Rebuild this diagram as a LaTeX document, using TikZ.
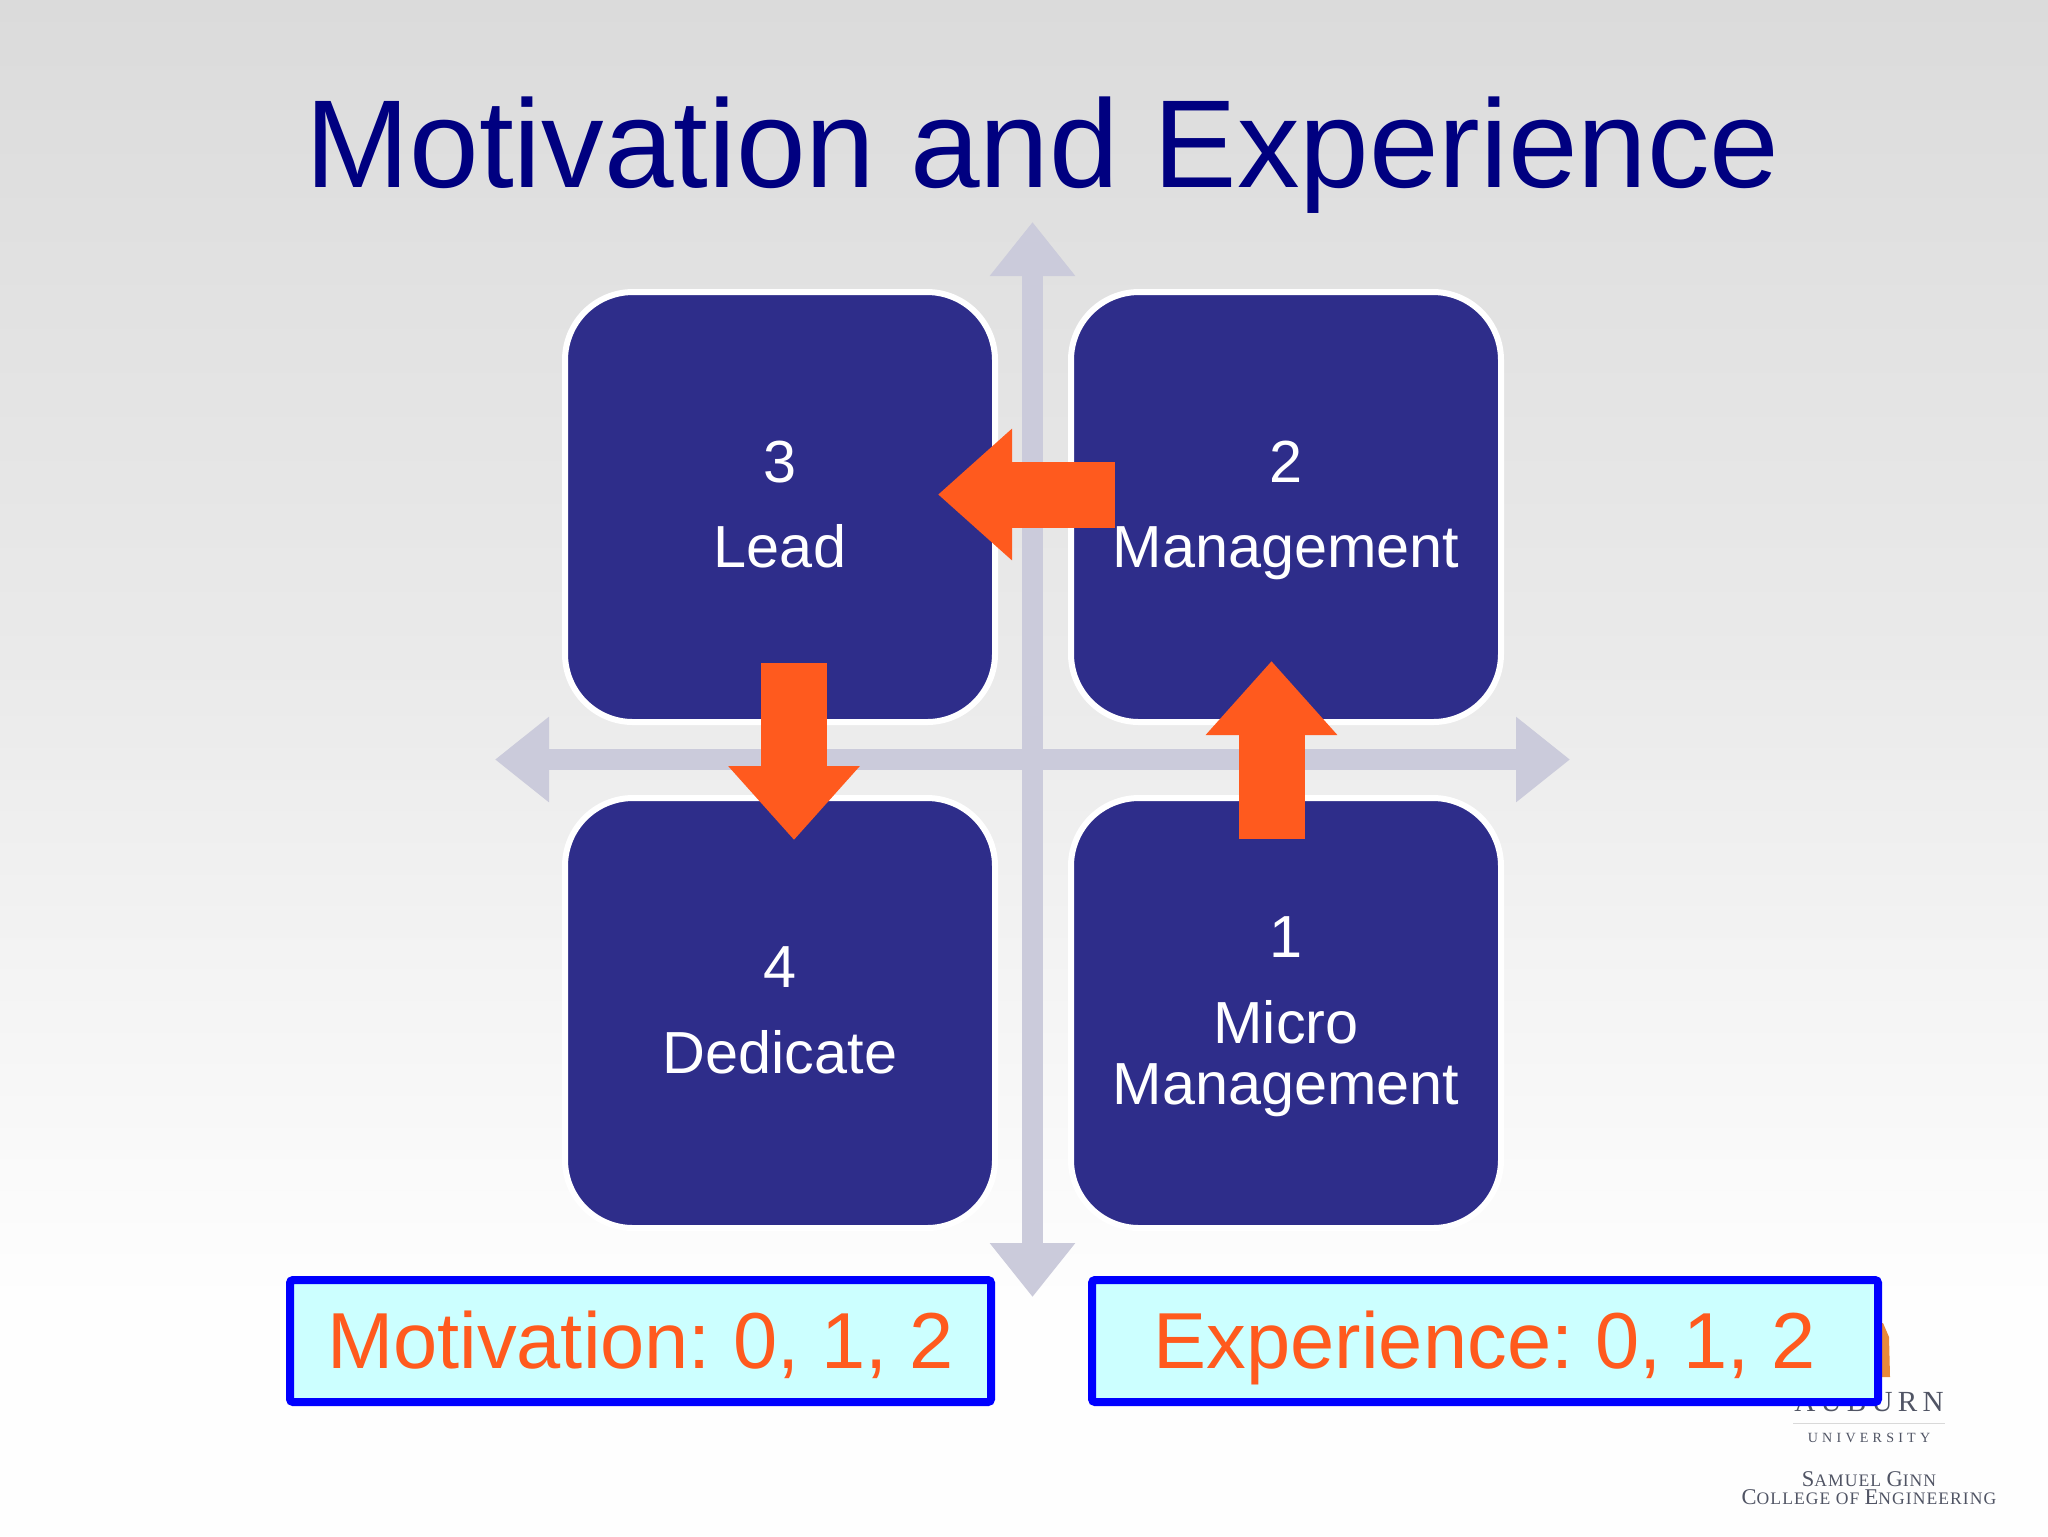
\documentclass[tikz,border=0pt]{standalone}
\usepackage{fontspec}
\setmainfont{Liberation Sans}
\newfontfamily\logobig[LetterSpace=18]{Liberation Serif}
\newfontfamily\logowide[LetterSpace=30]{Liberation Serif}
\newfontfamily\logosmall[LetterSpace=6]{Liberation Serif}
\usetikzlibrary{positioning, arrows.meta}
\definecolor{quadblue}{RGB}{46,45,138}
\definecolor{turnorange}{RGB}{255,90,30}
\definecolor{axisgray}{RGB}{203,203,219}
\definecolor{titlenavy}{RGB}{0,0,128}
\definecolor{scorefill}{RGB}{204,255,255}
\definecolor{logogray}{RGB}{80,84,100}
\definecolor{towerorange}{RGB}{232,137,58}
\definecolor{pagetop}{RGB}{219,219,219}
\definecolor{pagemid}{RGB}{235,235,235}
\definecolor{pagebottom}{RGB}{254,254,254}
\newcommand{\logocaps}[2]{{\fontsize{6.4}{7}\selectfont #1}{\fontsize{5}{7}\selectfont #2}}
\tikzset{
    quadbox/.style={draw=white, fill=quadblue, line width=0.6mm, rounded corners=6.8mm, outer sep=0pt, inner sep=0pt,
        minimum width=43mm, minimum height=43mm, align=center, text=white, text depth=0.55mm,
        font=\fontsize{16.9}{17.4}\selectfont},
    axisline/.style={draw=axisgray, line width=2.1mm, {Triangle[length=5.4mm, width=8.2mm]}-{Triangle[length=5.4mm, width=8.2mm]}},
    turnarrow/.style={draw=turnorange, line width=6.6mm, -{Triangle[length=7.4mm, width=12.7mm]}},
    scorebox/.style={draw=blue, fill=scorefill, line width=0.8mm, rounded corners=0.3mm, inner sep=0pt,
        minimum height=12.2mm, text height=6mm, text depth=0.6mm, text=turnorange,
        font=\frenchspacing\fontsize{22.6}{24}\selectfont},
    logotext/.style={anchor=base, text=logogray, inner sep=0pt}
}

\begin{document}
\begin{tikzpicture}[x=0.1mm, y=-0.1mm]
    \useasboundingbox (0,0) rectangle (2048,1536);
    \shade[top color=pagetop, bottom color=pagemid] (0,0) rectangle (2048,701);
    \shade[top color=pagemid, bottom color=pagebottom] (0,700) rectangle (2048,1301);
    \fill[pagebottom] (0,1300) rectangle (2048,1536);

    \node[anchor=base, inner sep=0pt, text=titlenavy, font=\fontsize{35.6}{36}\selectfont] (title) at (1042.5,187) {Motivation and Experience};

    \coordinate (axisN) at (1032.5,222);
    \coordinate (axisS) at (1032.5,1297);
    \coordinate (axisW) at (495,759.5);
    \coordinate (axisE) at (1570,759.5);
    \draw[axisline] (axisW) -- (axisE);
    \draw[axisline] (axisN) -- (axisS);

    \node[quadbox] (lead) at (780,507) {3\\[7pt]Lead};
    \node[quadbox, right = 7.6mm of lead] (management) {2\\[7pt]Management};
    \node[quadbox, below = 7.6mm of lead] (dedicate) {4\\[7pt]Dedicate};
    \node[quadbox, below = 7.6mm of management] (micro) {1\\[7pt]Micro\\Management};

    \coordinate (turn1a) at (1271.5,839);
    \coordinate (turn1b) at (1271.5,661);
    \coordinate (turn2a) at (1115,494.5);
    \coordinate (turn2b) at (938,494.5);
    \coordinate (turn3a) at (794,663);
    \coordinate (turn3b) at (794,840);
    \draw[turnarrow] (turn1a) -- (turn1b);
    \draw[turnarrow] (turn2a) -- (turn2b);
    \draw[turnarrow] (turn3a) -- (turn3b);

    \fill[towerorange] (1870,1323) -- (1883,1323) -- (1889,1337) -- (1890,1377) -- (1870,1377) -- cycle;
    \node[logotext, font=\logobig\fontsize{8.3}{9}\selectfont] (auburn) at (1869,1411) {AUBURN};
    \coordinate (ruleW) at (1793,1423);
    \coordinate (ruleE) at (1945,1423);
    \draw[black!15, line width=0.1mm] (ruleW) -- (ruleE);
    \node[logotext, font=\logowide\fontsize{4}{5}\selectfont] (university) at (1869,1442) {UNIVERSITY};
    \node[logotext, font=\logosmall\fontsize{5}{7}\selectfont] (ginn) at (1869,1486) {\logocaps{S}{AMUEL} \logocaps{G}{INN}};
    \node[logotext, font=\logosmall\fontsize{5}{7}\selectfont] (college) at (1869,1504) {\logocaps{C}{OLLEGE OF} \logocaps{E}{NGINEERING}};

    \node[scorebox, minimum width=70.1mm] (motivation) at (640.5,1341) {Motivation: 0, 1, 2};
    \node[scorebox, minimum width=78.6mm] (experience) at (1485,1341) {Experience: 0, 1, 2};
\end{tikzpicture}
\end{document}
